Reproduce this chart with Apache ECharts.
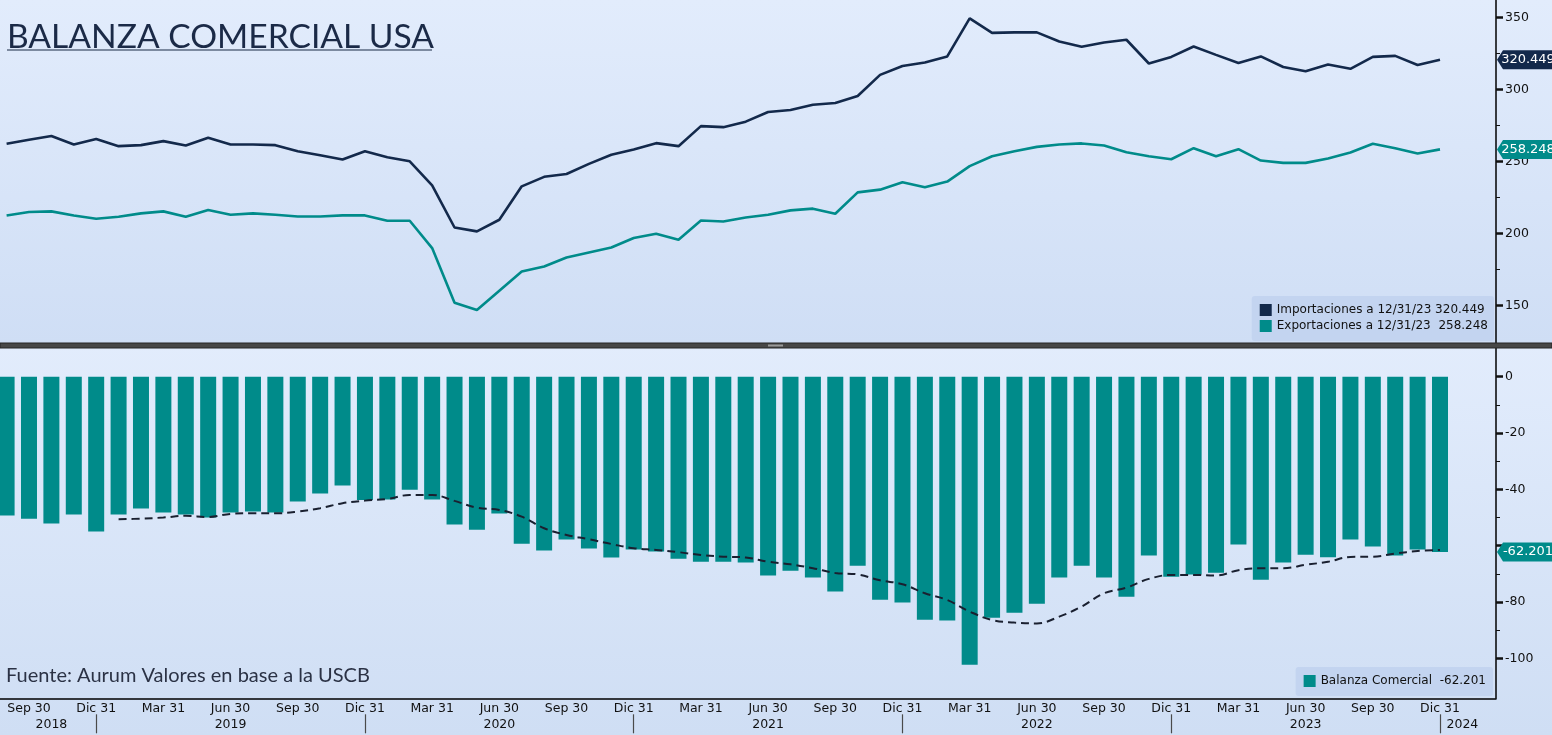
<!DOCTYPE html>
<html>
<head>
<meta charset="utf-8">
<title>Balanza Comercial USA</title>
<script src="https://cdn.jsdelivr.net/npm/echarts@6/dist/echarts.min.js"></script>
<style>
  html, body { margin: 0; padding: 0; background: #d8e5f8; }
  #main { width: 1552px; height: 735px; }
</style>
</head>
<body>
<div id="main"></div>
<script>
// meses: ago 2018 .. feb 2024 (los dos ultimos sin datos)
var categories = [];
for (let y = 2018, m = 8; categories.length < 67; m++) {
    if (m > 12) { m = 1; y++; }
    categories.push(y + '-' + (m < 10 ? '0' + m : m));
}

// miles de millones USD, mensual ago 2018 .. dic 2023
var imports = [262.2, 265.0, 267.5, 261.7, 265.4, 260.5, 261.2, 264.0, 261.0, 266.3,
    261.7, 261.7, 261.2, 257.0, 254.2, 251.2, 257.0, 252.8, 250.0, 233.3,
    204.0, 201.3, 209.4, 232.6, 239.2, 241.2, 248.2, 254.5, 258.2, 262.6,
    260.5, 274.4, 273.7, 277.5, 284.2, 285.6, 289.3, 290.5, 295.3, 310.0,
    316.2, 318.6, 322.8, 349.2, 339.2, 339.5, 339.5, 333.2, 329.5, 332.5,
    334.4, 317.9, 322.5, 329.7, 323.9, 318.3, 322.8, 315.5, 312.5, 317.2,
    314.2, 322.5, 323.2, 316.9, 320.449];
var exports = [212.4, 214.8, 215.2, 212.4, 210.1, 211.5, 213.8, 215.2, 211.5, 216.1,
    212.9, 213.8, 212.9, 211.7, 211.7, 212.4, 212.4, 208.7, 208.7, 189.7,
    151.8, 146.7, 160.1, 173.4, 176.9, 183.2, 186.7, 190.1, 196.7, 199.7,
    195.5, 208.9, 208.2, 211.0, 212.9, 215.9, 217.1, 213.6, 228.4, 230.3,
    235.4, 231.9, 235.9, 246.6, 253.5, 257.0, 260.0, 261.7, 262.4, 261.0,
    256.3, 253.5, 251.4, 259.1, 253.5, 258.4, 250.5, 248.9, 248.9, 251.9,
    256.1, 262.2, 259.1, 255.4, 258.248];
var balance = [-49.3, -50.4, -52.1, -48.9, -55.0, -48.9, -46.8, -48.2, -48.9, -50.0,
    -48.2, -47.9, -48.2, -44.3, -41.5, -38.6, -43.8, -43.6, -40.1, -43.6,
    -52.5, -54.3, -48.6, -59.3, -61.7, -57.8, -61.0, -64.2, -61.4, -62.1,
    -64.6, -65.7, -65.7, -66.0, -70.6, -68.9, -71.3, -76.3, -67.1, -79.2,
    -80.2, -86.3, -86.6, -102.3, -85.6, -83.8, -80.6, -71.3, -67.1, -71.3,
    -78.1, -63.5, -71.0, -70.2, -69.6, -59.6, -72.1, -66.0, -63.2, -64.1,
    -57.8, -60.3, -63.5, -61.4, -62.201];
// promedio movil (linea punteada)
var balanceAvg = [null, null, null, null, null,
    -50.6, -50.4, -50.0, -49.4, -49.8, -48.7, -48.5, -48.5, -47.9, -46.7,
    -44.9, -44.0, -43.4, -42.0, -42.0, -44.1, -46.5, -47.3, -49.7, -53.8,
    -56.2, -57.7, -59.4, -60.9, -61.5, -62.3, -63.3, -63.9, -64.2, -65.7,
    -66.6, -68.0, -69.7, -70.2, -72.3, -73.7, -76.9, -79.3, -83.4, -86.4,
    -87.3, -87.6, -85.2, -81.6, -76.9, -74.9, -71.8, -70.4, -70.4, -70.6,
    -68.7, -68.0, -68.0, -66.8, -65.7, -64.0, -63.9, -62.8, -61.9, -61.5];

var monthNames = { '03': 'Mar 31', '06': 'Jun 30', '09': 'Sep 30', '12': 'Dic 31' };
var yearLabels = { '2018-10': '2018', '2019-06': '2019', '2020-06': '2020', '2021-06': '2021',
    '2022-06': '2022', '2023-06': '2023', '2024-01': '2024' };

var NAVY = '#13294b';
var TEAL = '#008b8a';
var F = "'DejaVu Sans', sans-serif";
var tagPath = 'path://M0,10 L6,0 L62,0 L62,20 L6,20 Z';
var last = imports.length - 1;

function tag(color) {
    return {
        symbol: tagPath, symbolSize: [62, 19], symbolOffset: [88, 0], silent: true,
        itemStyle: { color: color },
        label: { show: true, position: 'inside', color: '#fff', fontSize: 13, fontFamily: F, formatter: '{c}' }
    };
}

var chart = echarts.init(document.getElementById('main'));

var tagImp = tag(NAVY);
tagImp.data = [{ coord: [categories[last], imports[last]], value: imports[last] }];
var tagExp = tag(TEAL);
tagExp.data = [{ coord: [categories[last], exports[last]], value: exports[last] }];
var tagBal = tag(TEAL);
tagBal.data = [{ coord: [categories[last], balance[last]], value: balance[last] }];

var hiddenX = function (grid) {
    return { type: 'category', gridIndex: grid, data: categories, show: false, axisLine: { onZero: false } };
};
var mkGrid = function (top, height) {
    return { left: -4.6, right: 56, top: top, height: height, outerBoundsMode: 'none', containLabel: false };
};

option = {
    animation: false,
    graphic: [
        { type: 'rect', z: -10, silent: true, shape: { x: 0, y: 0, width: 1552, height: 343 },
          style: { fill: new echarts.graphic.LinearGradient(0, 0, 0, 1, [{ offset: 0, color: '#e2ecfc' }, { offset: 1, color: '#cfdef5' }]) } },
        { type: 'rect', z: -10, silent: true, shape: { x: 0, y: 343, width: 1552, height: 392 },
          style: { fill: new echarts.graphic.LinearGradient(0, 0, 0, 1, [{ offset: 0, color: '#e2ecfc' }, { offset: 1, color: '#cfdef4' }]) } },
        { type: 'rect', z: 20, silent: true, shape: { x: 0, y: 343, width: 1552, height: 5 },
          style: { fill: '#474747', stroke: '#262626', lineWidth: 1 } },
        { type: 'rect', z: 21, silent: true, shape: { x: 768, y: 344.5, width: 15, height: 2 },
          style: { fill: '#9a9a9a' } },
        { type: 'line', z: 5, silent: true, shape: { x1: 7, y1: 50, x2: 432, y2: 50 },
          style: { stroke: '#1b2a47', lineWidth: 1.2 } }
    ],
    title: [
        { text: 'BALANZA COMERCIAL USA', left: 7, top: 20, padding: 0,
          textStyle: { fontFamily: 'Lato', fontSize: 33.6, fontWeight: 'normal', color: '#1b2a47' } },
        { text: 'Fuente: Aurum Valores en base a la USCB', left: 6, top: 666, padding: 0,
          textStyle: { fontFamily: 'Lato', fontSize: 20, fontWeight: 'normal', color: '#2b3245' } }
    ],
    legend: [
        { data: ['Importaciones', 'Exportaciones'], orient: 'vertical', right: 58, top: 296,
          backgroundColor: '#c3d4f0', borderRadius: 3, padding: [8, 6, 9, 8],
          itemWidth: 12, itemHeight: 12, itemGap: 4, icon: 'rect', selectedMode: false,
          textStyle: { fontFamily: F, fontSize: 12, color: '#111' },
          formatter: function (name) {
              if (name == 'Importaciones') return 'Importaciones a 12/31/23 ' + imports[last].toFixed(3);
              return 'Exportaciones a 12/31/23  ' + exports[last].toFixed(3);
          } },
        { data: ['Balanza Comercial'], right: 59, top: 667,
          backgroundColor: '#c3d4f0', borderRadius: 3, padding: [8, 7, 9, 8],
          itemWidth: 12, itemHeight: 12, icon: 'rect', selectedMode: false,
          textStyle: { fontFamily: F, fontSize: 12, color: '#111' },
          formatter: function (name) { return name + '  ' + balance[last].toFixed(3); } }
    ],
    grid: [
        mkGrid(0, 343),
        mkGrid(17.3, 288),
        mkGrid(348, 350.3),
        mkGrid(376.7, 281.6)
    ],
    xAxis: [
        hiddenX(0),
        hiddenX(1),
        { type: 'category', gridIndex: 2, data: categories, position: 'bottom',
          axisLine: { onZero: false, lineStyle: { color: '#000', width: 1.5 } },
          axisTick: { inside: true, length: 3, alignWithLabel: true, interval: 0, lineStyle: { color: '#111' } },
          axisLabel: { fontFamily: F, fontSize: 12.5, color: '#111', margin: 4,
              interval: function (i, v) { return !!monthNames[v.slice(5)]; },
              formatter: function (v) { return monthNames[v.slice(5)]; } } },
        { type: 'category', gridIndex: 2, data: categories, position: 'bottom', offset: 16,
          axisLine: { show: false, onZero: false },
          axisTick: { show: true, length: 19, alignWithLabel: true, lineStyle: { color: '#4a4a4a', width: 1.2 },
              interval: function (i, v) { return v.slice(5) == '12'; } },
          axisLabel: { fontFamily: F, fontSize: 12.5, color: '#111', margin: 4,
              interval: function (i, v) { return !!yearLabels[v]; },
              formatter: function (v) { return yearLabels[v]; } } },
        hiddenX(3)
    ],
    yAxis: [
        { type: 'value', gridIndex: 0, position: 'right', min: 123.8, max: 362,
          axisLine: { show: true, lineStyle: { color: '#000', width: 1.5 } },
          axisTick: { show: false }, axisLabel: { show: false }, splitLine: { show: false } },
        { type: 'value', gridIndex: 1, position: 'right', min: 150, max: 350, interval: 50,
          axisLine: { show: false }, splitLine: { show: false },
          axisTick: { show: true, length: 7, lineStyle: { color: '#111', width: 2.5 } },
          minorTick: { show: true, splitNumber: 2, length: 4, lineStyle: { color: '#111', width: 1 } },
          axisLabel: { fontFamily: F, fontSize: 12.5, color: '#111', margin: 9 } },
        { type: 'value', gridIndex: 2, position: 'right', min: -114.2, max: 10.2,
          axisLine: { show: true, lineStyle: { color: '#000', width: 1.5 } },
          axisTick: { show: false }, axisLabel: { show: false }, splitLine: { show: false } },
        { type: 'value', gridIndex: 3, position: 'right', min: -100, max: 0, interval: 20,
          axisLine: { show: false }, splitLine: { show: false },
          axisTick: { show: true, length: 7, lineStyle: { color: '#111', width: 2.5 } },
          minorTick: { show: true, splitNumber: 2, length: 4, lineStyle: { color: '#111', width: 1 } },
          axisLabel: { fontFamily: F, fontSize: 12.5, color: '#111', margin: 9,
              // la etiqueta que queda bajo el recuadro del ultimo valor no se muestra
              formatter: function (v) { return Math.abs(v - balance[last]) < 4 ? '' : v; } } }
    ],
    series: [
        { name: 'Importaciones', type: 'line', xAxisIndex: 0, yAxisIndex: 0, data: imports,
          symbol: 'none', clip: false, color: NAVY, lineStyle: { width: 2.6, color: NAVY },
          markPoint: tagImp },
        { name: 'Exportaciones', type: 'line', xAxisIndex: 0, yAxisIndex: 0, data: exports,
          symbol: 'none', clip: false, color: TEAL, lineStyle: { width: 2.6, color: TEAL },
          markPoint: tagExp },
        { name: 'Balanza Comercial', type: 'bar', xAxisIndex: 2, yAxisIndex: 2, data: balance,
          barWidth: 16, clip: false, color: TEAL, itemStyle: { color: TEAL },
          markPoint: tagBal },
        { name: 'Promedio', type: 'line', xAxisIndex: 2, yAxisIndex: 2, data: balanceAvg,
          symbol: 'none', smooth: 0.4, z: 3, lineStyle: { width: 2, color: '#1a2030', type: [8, 5] } }
    ]
};
chart.setOption(option);
</script>
</body>
</html>
